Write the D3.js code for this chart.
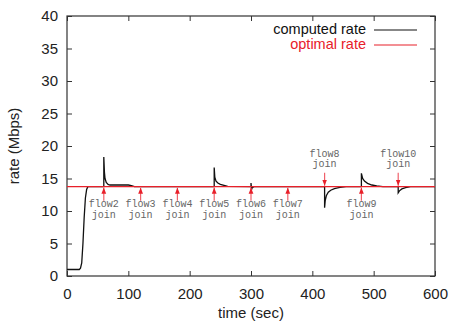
<!DOCTYPE html>
<html>
<head>
<meta charset="utf-8">
<script src="https://cdn.jsdelivr.net/npm/d3@7"></script>
<style>
  body { margin: 0; background: #fff; }
  text { font-family: "Liberation Sans", Arial, sans-serif; }
  .mono { font-family: "Liberation Mono", "Courier New", monospace; }
</style>
</head>
<body>
<script>
// computed rate samples (time in sec, rate in Mbps)
var computedTime = [0, 20, 22, 24, 26, 28, 30, 32, 34, 60, 60, 61, 62, 64, 67, 70, 100, 105, 110,
    240, 240, 241, 243, 246, 250, 256, 262, 300, 300, 301, 302, 305,
    420, 420, 421, 423, 426, 430, 436, 445, 455, 480, 480, 482, 485, 490, 497, 505, 515,
    540, 540, 542, 546, 552, 560, 600];
var computedRate = [1, 1, 1.2, 2, 5, 9, 12, 13.3, 13.75, 13.75, 18.3, 16, 15, 14.4, 14.1, 14.0, 14.0, 13.9, 13.75,
    13.75, 16.7, 15.2, 14.6, 14.3, 14.1, 13.95, 13.8, 13.75, 14.3, 13.3, 13.6, 13.75,
    13.75, 10.5, 11.6, 12.4, 12.9, 13.2, 13.45, 13.65, 13.75, 13.75, 15.8, 15.0, 14.6, 14.25, 14.0, 13.85, 13.75,
    13.75, 12.8, 13.1, 13.4, 13.6, 13.75, 13.75];
var optimalRate = 13.75;

// flow join events
var flowNames = ["flow2", "flow3", "flow4", "flow5", "flow6", "flow7", "flow8", "flow9", "flow10"];
var flowTimes = [60, 120, 180, 240, 300, 360, 420, 480, 540];
var flowAbove = [false, false, false, false, false, false, true, false, true];

var xTicks = [0, 100, 200, 300, 400, 500, 600];
var yTicks = [0, 5, 10, 15, 20, 25, 30, 35, 40];

var svg = d3.select('body').append('svg')
    .attr('width', 449)
    .attr('height', 322);

var plotLeft = 67, plotRight = 435, plotTop = 16, plotBottom = 276;

var x = d3.scaleLinear().domain([0, 600]).range([plotLeft, plotRight]);
var y = d3.scaleLinear().domain([0, 40]).range([plotBottom, plotTop]);

var axisColor = "#333";

// frame
svg.append("rect")
    .attr("x", plotLeft).attr("y", plotTop)
    .attr("width", plotRight - plotLeft).attr("height", plotBottom - plotTop)
    .attr("fill", "none")
    .attr("stroke", axisColor)
    .attr("stroke-width", 1.2);

function styleAxis(g) {
    g.select(".domain").remove();
    g.selectAll(".tick line").attr("stroke", axisColor).attr("stroke-width", 1);
    g.selectAll(".tick text").attr("fill", "#222").style("font-size", "15px")
        .style("font-family", "'Liberation Sans', Arial, sans-serif");
}

// bottom / top / left / right axes with inward ticks
svg.append("g")
    .attr("transform", "translate(0," + plotBottom + ")")
    .call(d3.axisBottom(x).tickValues(xTicks).tickSize(-5).tickPadding(12))
    .call(styleAxis);
svg.append("g")
    .attr("transform", "translate(0," + plotTop + ")")
    .call(d3.axisTop(x).tickValues(xTicks).tickSize(-5).tickFormat(""))
    .call(styleAxis);
svg.append("g")
    .attr("transform", "translate(" + plotLeft + ",0)")
    .call(d3.axisLeft(y).tickValues(yTicks).tickSize(-5).tickPadding(9))
    .call(styleAxis);
svg.append("g")
    .attr("transform", "translate(" + plotRight + ",0)")
    .call(d3.axisRight(y).tickValues(yTicks).tickSize(-5).tickFormat(""))
    .call(styleAxis);

// axis titles
svg.append("text")
    .attr("x", (plotLeft + plotRight) / 2)
    .attr("y", 318)
    .attr("text-anchor", "middle")
    .attr("fill", "#222")
    .style("font-size", "15px")
    .text("time (sec)");

svg.append("text")
    .attr("transform", "translate(19," + ((plotTop + plotBottom) / 2) + ") rotate(-90)")
    .attr("text-anchor", "middle")
    .attr("fill", "#222")
    .style("font-size", "15px")
    .text("rate (Mbps)");

// computed rate line
var line = d3.line()
    .x(function (d, i) { return x(computedTime[i]); })
    .y(function (d) { return y(d); });

svg.append("path")
    .datum(computedRate)
    .attr("fill", "none")
    .attr("stroke", "#111")
    .attr("stroke-width", 1.3)
    .attr("d", line);

// optimal rate line, drawn over the computed one
svg.append("line")
    .attr("x1", x(0)).attr("x2", x(600))
    .attr("y1", y(optimalRate)).attr("y2", y(optimalRate))
    .attr("stroke", "#e8202a")
    .attr("stroke-width", 1.3);

// arrowhead marker
svg.append("defs").append("marker")
    .attr("id", "arrow")
    .attr("viewBox", "0 0 10 10")
    .attr("refX", 10).attr("refY", 5)
    .attr("markerWidth", 5).attr("markerHeight", 5)
    .attr("orient", "auto")
    .append("path")
    .attr("d", "M0,1 L10,5 L0,9 Z")
    .attr("fill", "#e8202a");

// flow join annotations
var flows = svg.selectAll(".flow")
    .data(flowNames)
    .enter().append("g")
    .attr("class", "flow");

flows.append("line")
    .attr("x1", function (d, i) { return x(flowTimes[i]); })
    .attr("x2", function (d, i) { return x(flowTimes[i]); })
    .attr("y1", function (d, i) { return flowAbove[i] ? y(optimalRate) - 14 : y(optimalRate) + 14; })
    .attr("y2", function (d, i) { return flowAbove[i] ? y(optimalRate) - 1 : y(optimalRate) + 1; })
    .attr("stroke", "#f0606a")
    .attr("stroke-width", 1.2)
    .attr("marker-end", "url(#arrow)");

flows.append("text")
    .attr("class", "mono")
    .attr("x", function (d, i) { return x(flowTimes[i]); })
    .attr("y", function (d, i) { return flowAbove[i] ? y(optimalRate) - 30 : y(optimalRate) + 20; })
    .attr("text-anchor", "middle")
    .attr("fill", "#666")
    .style("font-size", "10px")
    .text(function (d) { return d; });

flows.append("text")
    .attr("class", "mono")
    .attr("x", function (d, i) { return x(flowTimes[i]); })
    .attr("y", function (d, i) { return flowAbove[i] ? y(optimalRate) - 20 : y(optimalRate) + 31; })
    .attr("text-anchor", "middle")
    .attr("fill", "#666")
    .style("font-size", "10px")
    .text("join");

// legend
var legendNames = ["computed rate", "optimal rate"];
var legendColors = ["#111", "#e8202a"];
var legend = svg.selectAll(".legend")
    .data(legendNames)
    .enter().append("g")
    .attr("transform", function (d, i) { return "translate(0," + (30 + i * 15) + ")"; });

legend.append("text")
    .attr("x", 366)
    .attr("y", 4)
    .attr("text-anchor", "end")
    .attr("fill", function (d, i) { return i == 0 ? "#111" : "#e8202a"; })
    .style("font-size", "14.5px")
    .text(function (d) { return d; });

legend.append("line")
    .attr("x1", 374).attr("x2", 417)
    .attr("y1", 0).attr("y2", 0)
    .attr("stroke", function (d, i) { return legendColors[i]; })
    .attr("stroke-width", 1.1);
</script>
</body>
</html>
